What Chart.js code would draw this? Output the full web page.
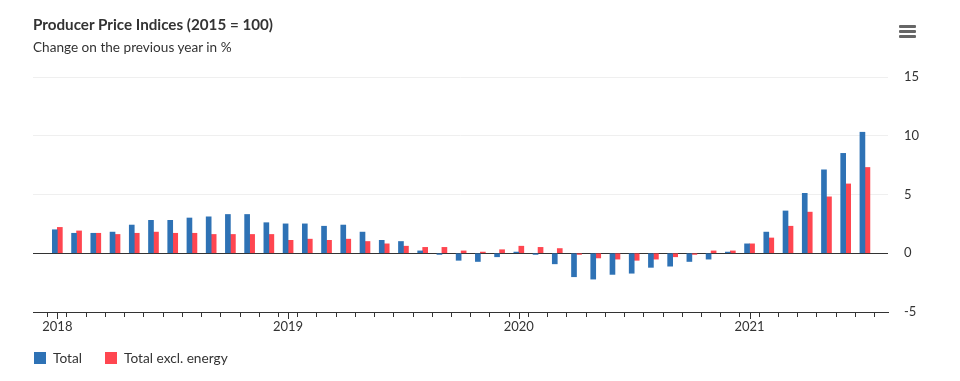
<!DOCTYPE html>
<html>
<head>
<meta charset="utf-8">
<script src="https://cdn.jsdelivr.net/npm/chart.js@4"></script>
<style>
    body { margin: 0; background: #fff; font-family: "Lato", "Open Sans", sans-serif; }
    #wrap { position: relative; width: 960px; height: 381px; }
    #title { position: absolute; left: 33px; top: 15px; font-size: 15.2px; font-weight: bold; color: #333; }
    #subtitle { position: absolute; left: 33px; top: 39px; font-size: 13.6px; color: #333; }
    #menu { position: absolute; left: 899px; top: 25px; width: 17px; }
    #menu span { display: block; height: 3px; background: #666; margin-bottom: 2px; border-radius: 1px; }
    #legend { position: absolute; left: 34px; top: 349px; font-size: 13.7px; color: #333; }
    .item { display: inline-block; margin-right: 23px; }
    .box { display: inline-block; width: 12px; height: 12px; vertical-align: -1px; margin-right: 7px; }
</style>
</head>
<body>
<div id="wrap">
    <canvas id="ppiChart" width="960" height="381"></canvas>
    <div id="title">Producer Price Indices (2015 = 100)</div>
    <div id="subtitle">Change on the previous year in %</div>
    <div id="menu"><span></span><span></span><span></span></div>
    <div id="legend"></div>
</div>

<script>
// ===============================
// DATA (monthly, Jan 2018 - Jul 2021)
// ===============================
const firstYear = 2018;

const total = [
    2.0, 1.7, 1.7, 1.8, 2.4, 2.8, 2.8, 3.0, 3.1, 3.3, 3.3, 2.6,
    2.5, 2.5, 2.3, 2.4, 1.8, 1.1, 1.0, 0.2, -0.1, -0.6, -0.7, -0.3,
    0.1, -0.1, -0.9, -2.0, -2.2, -1.8, -1.7, -1.2, -1.1, -0.7, -0.5, 0.1,
    0.8, 1.8, 3.6, 5.1, 7.1, 8.5, 10.3
];

const totalExclEnergy = [
    2.2, 1.9, 1.7, 1.6, 1.7, 1.8, 1.7, 1.7, 1.6, 1.6, 1.6, 1.6,
    1.1, 1.2, 1.1, 1.2, 1.0, 0.8, 0.6, 0.5, 0.5, 0.2, 0.1, 0.3,
    0.6, 0.5, 0.4, -0.1, -0.4, -0.5, -0.6, -0.5, -0.3, -0.1, 0.2, 0.2,
    0.8, 1.3, 2.3, 3.5, 4.8, 5.9, 7.3
];

const yTicks = { min: -5, max: 15, step: 5 };

const seriesNames = ["Total", "Total excl. energy"];
const seriesColors = ["#2e72b5", "#ff4650"];

// ===============================
// CHART
// ===============================
const toPoints = arr => arr.map((v, i) => ({ x: i, y: v }));

const legend = document.getElementById("legend");
seriesNames.forEach((name, i) => {
    legend.innerHTML += `<span class="item"><span class="box" style="background:${seriesColors[i]}"></span>${name}</span>`;
});

// longer tick marks at the start of each year
const yearTicks = {
    id: "yearTicks",
    afterDraw(chart) {
        const x = chart.scales.x;
        const c = chart.ctx;
        const bottom = chart.chartArea.bottom;
        c.save();
        c.strokeStyle = "#333";
        c.lineWidth = 1;
        x.ticks.forEach(t => {
            if (t.value >= 0 && t.value % 12 === 0) {
                const px = Math.round(x.getPixelForValue(t.value)) + 0.5;
                c.beginPath();
                c.moveTo(px, bottom);
                c.lineTo(px, bottom + 7);
                c.stroke();
            }
        });
        c.restore();
    }
};

const ctx = document.getElementById("ppiChart").getContext("2d");

new Chart(ctx, {
    type: "bar",
    data: {
        datasets: [
            { label: seriesNames[0], data: toPoints(total), backgroundColor: seriesColors[0] },
            { label: seriesNames[1], data: toPoints(totalExclEnergy), backgroundColor: seriesColors[1] }
        ]
    },
    options: {
        responsive: false,
        animation: false,
        barThickness: 5,
        layout: { padding: { left: 33, top: 77, right: 0, bottom: 0 } },
        plugins: {
            legend: { display: false },
            tooltip: { enabled: false }
        },
        scales: {
            x: {
                type: "linear",
                min: -1.266,
                max: 43.2,
                offset: false,
                afterFit: s => { s.height = 69; },
                border: { color: "#333", width: 1 },
                grid: {
                    drawOnChartArea: false,
                    tickLength: 5,
                    tickColor: "#333"
                },
                ticks: {
                    stepSize: 1,
                    includeBounds: false,
                    autoSkip: false,
                    maxRotation: 0,
                    padding: 2,
                    color: "#333",
                    font: { family: "Lato", size: 13 },
                    callback: v => (v >= 0 && v % 12 === 0) ? String(firstYear + v / 12) : ""
                }
            },
            y: {
                position: "right",
                min: yTicks.min,
                max: yTicks.max,
                afterFit: s => { s.width = 72; },
                border: { display: false },
                grid: {
                    drawTicks: false,
                    color: c => c.tick.value === 0 ? "#333" : "#efefef"
                },
                ticks: {
                    stepSize: yTicks.step,
                    padding: 16,
                    color: "#333",
                    font: { family: "Lato", size: 13 }
                }
            }
        }
    },
    plugins: [yearTicks]
});
</script>
</body>
</html>
